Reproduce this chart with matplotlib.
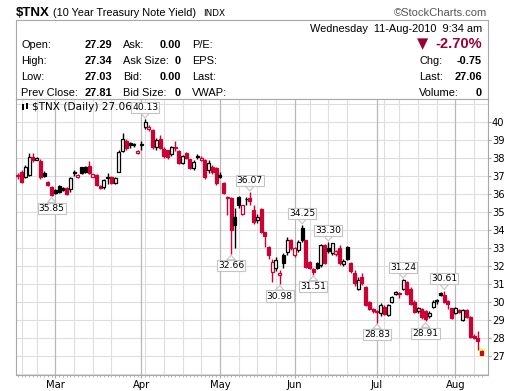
import matplotlib
matplotlib.use("Agg")
import matplotlib.pyplot as plt
from matplotlib.patches import Rectangle
import pandas as pd

W, H = 520, 391

# trading days 12-Feb-2010 .. 11-Aug-2010
holidays = ["2010-02-15", "2010-04-02", "2010-05-31", "2010-07-05"]
dates = pd.bdate_range("2010-02-12", "2010-08-11")
dates = dates[~dates.isin(pd.to_datetime(holidays))]

opens = [37.02, 37.22, 36.94, 37.04, 38.02, 37.87, 37.83, 37.17, 36.67, 36.35,
         36.20, 36.43, 36.30, 36.30, 36.24, 37.22, 36.91, 37.46, 37.50, 37.54,
         36.94, 37.04, 36.43, 36.35, 36.92, 36.95, 36.60, 37.22, 38.39, 38.94,
         38.80, 38.70, 38.24, 38.70, 39.69, 39.57, 39.54, 38.61, 39.05, 38.50,
         38.40, 38.20, 38.62, 38.35, 37.72, 38.25, 37.90, 37.40, 38.12, 37.85,
         37.85, 37.30, 37.50, 37.40, 37.05, 36.57, 35.80, 35.74, 34.72, 35.83,
         34.90, 35.68, 35.75, 35.10, 34.54, 35.13, 33.85, 33.05, 31.63, 31.85,
         31.48, 32.60, 32.78, 33.43, 32.60, 32.87, 34.07, 33.43, 32.20, 31.80,
         32.13, 32.04, 33.15, 33.00, 32.70, 32.63, 33.00, 32.07, 33.04, 32.15,
         31.60, 30.72, 31.37, 30.81, 29.98, 29.61, 29.45, 29.37, 29.70, 29.24,
         29.98, 30.41, 30.46, 30.72, 31.10, 30.72, 29.98, 29.48, 29.58, 29.50,
         29.20, 29.72, 30.05, 30.50, 30.37, 30.05, 29.63, 29.35, 29.54, 28.98,
         29.54, 29.17, 28.12, 28.00, 27.29]
highs = [37.15, 37.30, 37.60, 38.28, 38.25, 38.05, 37.90, 37.25, 36.70, 36.40,
         36.25, 36.50, 36.35, 36.35, 36.90, 37.30, 37.10, 37.50, 37.55, 37.80,
         37.12, 37.10, 36.50, 36.80, 37.17, 37.00, 36.90, 38.40, 39.35, 39.05,
         38.85, 38.80, 38.42, 38.95, 40.13, 39.80, 39.60, 39.10, 39.25, 38.60,
         38.45, 38.65, 38.90, 38.40, 38.15, 38.30, 37.95, 37.85, 38.20, 38.10,
         37.95, 37.85, 37.60, 37.50, 37.20, 36.65, 35.85, 35.80, 35.20, 35.90,
         35.40, 35.80, 36.07, 35.40, 34.90, 35.20, 33.90, 33.10, 32.35, 32.50,
         31.75, 32.70, 33.60, 33.50, 33.05, 33.45, 34.25, 33.45, 32.25, 31.85,
         32.20, 33.20, 33.20, 33.30, 33.28, 32.90, 33.15, 32.35, 33.10, 32.20,
         31.75, 31.35, 31.60, 30.90, 30.05, 29.65, 29.55, 29.95, 29.80, 29.85,
         30.30, 30.60, 30.55, 31.24, 31.15, 30.80, 30.10, 29.70, 29.65, 29.55,
         29.50, 30.10, 30.15, 30.55, 30.61, 30.10, 29.65, 29.70, 29.60, 29.60,
         29.60, 29.20, 28.20, 28.40, 27.34]
lows = [36.80, 36.60, 36.85, 37.00, 37.75, 37.85, 36.80, 36.90, 36.40, 35.85,
        35.98, 36.05, 36.15, 35.95, 36.10, 37.00, 36.85, 37.10, 37.15, 37.10,
        36.90, 36.45, 36.25, 36.25, 36.55, 36.55, 36.55, 37.20, 38.30, 38.45,
        38.55, 38.60, 38.20, 38.40, 39.60, 39.50, 38.50, 38.45, 38.50, 38.00,
        37.95, 38.10, 38.35, 37.65, 37.65, 37.95, 37.35, 37.30, 37.95, 37.80,
        36.80, 37.15, 37.10, 36.50, 36.85, 36.00, 34.80, 32.66, 33.00, 35.20,
        34.80, 35.40, 35.40, 34.30, 34.40, 33.80, 33.05, 32.40, 31.10, 31.70,
        30.98, 31.90, 32.60, 32.90, 32.50, 32.75, 33.30, 31.90, 31.80, 31.51,
        31.80, 31.95, 32.10, 32.70, 32.60, 32.55, 32.05, 32.00, 32.30, 31.60,
        30.90, 30.65, 30.95, 29.75, 29.55, 29.40, 28.83, 29.20, 29.25, 29.20,
        29.95, 30.35, 30.20, 30.65, 30.35, 29.80, 29.35, 29.40, 29.05, 28.91,
        29.10, 29.65, 29.90, 30.30, 29.95, 29.60, 29.05, 29.30, 29.35, 28.95,
        29.10, 28.00, 27.95, 27.30, 27.03]
closes = [36.98, 36.67, 37.46, 38.06, 37.87, 38.00, 36.90, 36.98, 36.48, 35.93,
          36.05, 36.11, 36.20, 36.00, 36.85, 37.13, 37.04, 37.17, 37.22, 37.13,
          37.09, 36.50, 36.32, 36.76, 36.88, 36.60, 36.85, 38.33, 39.02, 38.52,
          38.68, 38.73, 38.37, 38.72, 40.00, 39.72, 38.61, 38.98, 38.55, 38.10,
          38.05, 38.60, 38.55, 37.72, 38.10, 38.00, 37.40, 37.78, 38.05, 38.00,
          36.90, 37.72, 37.20, 36.60, 36.95, 36.05, 35.74, 33.98, 34.26, 35.37,
          35.35, 35.70, 35.62, 34.44, 34.72, 33.89, 33.65, 32.60, 32.22, 32.31,
          31.62, 32.13, 33.43, 33.00, 32.98, 33.33, 33.43, 31.94, 31.85, 31.63,
          31.90, 33.15, 32.13, 32.80, 33.24, 32.80, 32.13, 32.26, 32.40, 31.70,
          31.05, 31.22, 31.04, 29.80, 29.61, 29.48, 29.42, 29.80, 29.33, 29.80,
          30.26, 30.54, 30.44, 31.19, 30.45, 29.85, 29.43, 29.65, 29.15, 29.02,
          29.39, 30.00, 30.02, 30.37, 30.00, 29.90, 29.07, 29.63, 29.45, 29.54,
          29.13, 28.05, 27.99, 27.81, 27.06]

# (bar index, value, direction: 1 above / -1 below)
callouts = [(9, 35.85, -1), (34, 40.13, 1), (57, 32.66, -1), (62, 36.07, 1),
            (70, 30.98, -1), (76, 34.25, 1), (79, 31.51, -1), (83, 33.30, 1),
            (96, 28.83, -1), (103, 31.24, 1), (109, 28.91, -1), (114, 30.61, 1)]

price_ticks = list(range(27, 41))

RED = "#cc0033"
DARKRED = "#990033"
GRID = "#dedede"
MONTHGRID = "#b8b8b8"
BORDER = "#a8a8a8"

fig = plt.figure(figsize=(W / 100, H / 100), dpi=100)


def ftext(x, y, s, **kw):
    kw.setdefault("family", "Liberation Sans")
    kw.setdefault("fontsize", 7.9)
    fig.text(x / W, 1 - y / H, s, va="baseline", **kw)


# title line
ftext(16, 15.5, "$TNX", fontsize=9.5, weight="bold")
ftext(53, 15.5, "(10 Year Treasury Note Yield)", fontsize=7.8)
ftext(203, 15.5, "INDX", family="DejaVu Sans", fontsize=6.4)
ftext(487, 15.5, "\u00a9StockCharts.com", ha="right", fontsize=8, color="#555555")

# quote header box
hax = fig.add_axes([16 / W, 1 - 99 / H, 472 / W, 79 / H])
hax.set_xticks([])
hax.set_yticks([])
for s in hax.spines.values():
    s.set_color(BORDER)

rows = [48, 64.5, 80.5, 96]
colA = [("Open:", "27.29"), ("High:", "27.34"), ("Low:", "27.03"), ("Prev Close:", "27.81")]
colB = [("Ask:", "0.00"), ("Ask Size:", "0"), ("Bid:", "0.00"), ("Bid Size:", "0")]
colC = ["P/E:", "EPS:", "Last:", "VWAP:"]
for y, (la, va), (lb, vb), lc in zip(rows, colA, colB, colC):
    ftext(21, y, la)
    ftext(112, y, va, ha="right", weight="bold")
    ftext(123, y, lb)
    ftext(181, y, vb, ha="right", weight="bold")
    ftext(192, y, lc)

ftext(482, 31.5, "Wednesday  11-Aug-2010  9:34 am", ha="right")
ftext(417, 48, "\u25bc", family="DejaVu Sans", fontsize=10.5, color=DARKRED)
ftext(482, 48, "-2.70%", ha="right", fontsize=10.5, weight="bold", color=DARKRED)
for y, (lab, val) in zip(rows[1:], [("Chg:", "-0.75"), ("Last:", "27.06"), ("Volume:", "0")]):
    ftext(419, y, lab)
    ftext(482, y, val, ha="right", weight="bold")

# price chart
ax = fig.add_axes([16 / W, 1 - 375 / H, 472 / W, 276 / H])
n = len(closes)
ax.set_xlim(-0.53, 125.7)
ax.set_ylim(25.93, 41.26)

for p in range(26, 42):
    ax.axhline(p, color=GRID, lw=0.8, zorder=1)

month_idx = [i for i in range(1, n) if dates[i].month != dates[i - 1].month]
weeks = pd.Series(range(n), index=dates).groupby(dates.to_period("W")).min()
for wk, i0 in weeks.items():
    in_week = [m for m in month_idx if dates[m].to_period("W") == wk]
    if in_week or i0 == 0:
        continue
    ax.axvline(i0, color=GRID, lw=0.8, zorder=1)
for m in month_idx:
    ax.axvline(m, color=MONTHGRID, lw=0.9, zorder=1)

# highlight for the latest bar
ax.add_patch(Rectangle((n - 1 - 0.8, 26.95), 1.6, 0.47, facecolor="#ffff66",
                       edgecolor="none", zorder=2))

for i in range(n):
    o, h, l, c = opens[i], highs[i], lows[i], closes[i]
    prev = closes[i - 1] if i > 0 else o
    col = RED if c < prev else "black"
    ax.vlines(i, l, h, color=col, lw=1.0, zorder=3)
    face = col if c < o else "white"
    ax.add_patch(Rectangle((i - 0.4, min(o, c)), 0.8, max(abs(c - o), 0.05),
                           facecolor=face, edgecolor=col, lw=0.9, zorder=4))

for i, v, d in callouts:
    ax.annotate(f"{v:.2f}", xy=(i, v), xytext=(0, 12 * d), textcoords="offset pixels",
                ha="center", va="center", fontsize=6.6, family="DejaVu Sans",
                bbox=dict(boxstyle="square,pad=0.12", fc="white", ec="#c4c4c4", lw=0.8),
                arrowprops=dict(arrowstyle="wedge,tail_width=0.9", fc="white",
                                ec="#c4c4c4", lw=0.8, shrinkA=0, shrinkB=1),
                zorder=6)

# small legend line in the corner
ax.text((31.5 - 16) / 472, (375 - 110.3) / 276, "$TNX (Daily) 27.06", transform=ax.transAxes,
        fontsize=7.6, family="DejaVu Sans", va="baseline", zorder=5)
for x0, y0, y1 in [(21.5, 104.5, 110), (25.5, 103.5, 109)]:
    ax.add_patch(Rectangle(((x0 - 16) / 472, (375 - y1) / 276), 2 / 472, (y1 - y0) / 276,
                           transform=ax.transAxes, facecolor="black", edgecolor="none",
                           zorder=5))

ax.yaxis.tick_right()
ax.set_yticks(price_ticks)
ax.set_yticklabels([str(p) for p in price_ticks], family="DejaVu Sans")
ax.tick_params(axis="y", length=2, width=0.8, color=BORDER, labelsize=7.2, pad=0.8)

ax.set_xticks(month_idx)
ax.set_xticklabels([dates[m].strftime("%b") for m in month_idx], family="DejaVu Sans")
ax.set_xticks(range(n), minor=True)
ax.tick_params(axis="x", which="major", length=2, width=0.8, color=BORDER, labelsize=7.2, pad=1.5)
ax.tick_params(axis="x", which="minor", length=1.5, width=0.6, color=BORDER)
for s in ax.spines.values():
    s.set_color(BORDER)

fig.savefig("out.png", dpi=100)
plt.close(fig)
